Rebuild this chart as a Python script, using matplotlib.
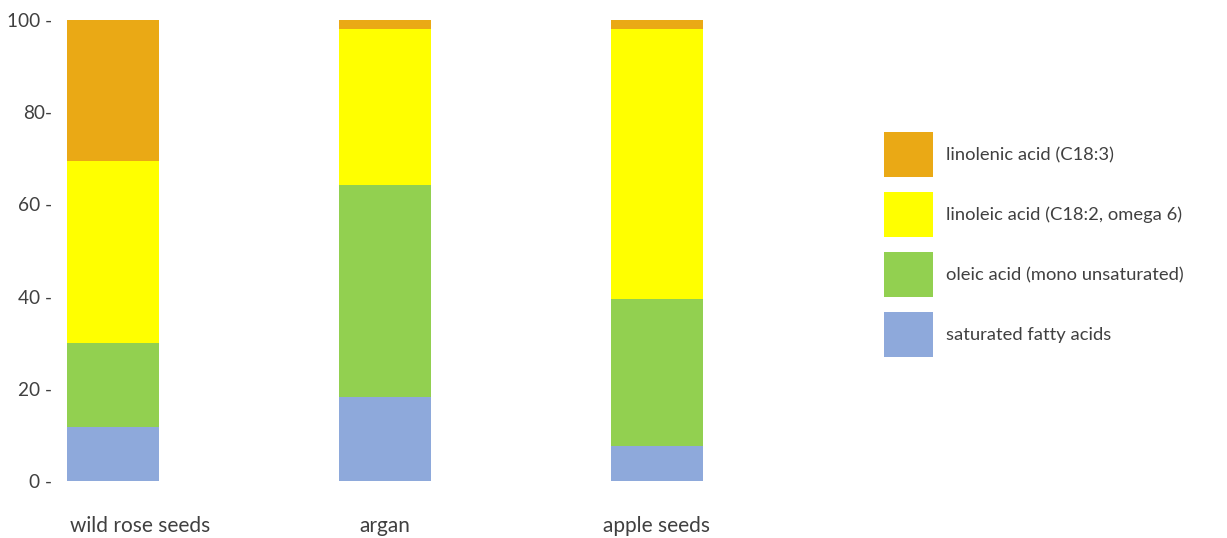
import matplotlib.pyplot as plt
import matplotlib.transforms as mtransforms
import numpy as np
from matplotlib.container import BarContainer
from matplotlib.legend_handler import HandlerPatch, update_from_first_child
from matplotlib.patches import Rectangle

TEXT_COLOUR = "#404040"

categories = ["wild rose seeds", "argan", "apple seeds"]
saturated = [11.8, 18.3, 7.6]
oleic = [18.1, 45.9, 31.8]
linoleic = [39.5, 33.8, 58.6]
linolenic = [30.6, 2.0, 2.0]

series_names = [
    "saturated fatty acids",
    "oleic acid (mono unsaturated)",
    "linoleic acid (C18:2, omega 6)",
    "linolenic acid (C18:3)",
]
series_colours = ["#8EA9DB", "#92D050", "#FFFF00", "#EAA915"]

y_ticks = [0, 20, 40, 60, 80, 100]
y_tick_labels = ["0 -", "20 -", "40 -", "60 -", "80-", "100 -"]

W, H = 1227, 538
fig = plt.figure(figsize=(W / 100, H / 100), dpi=100)
plt.rcParams["font.family"] = ["Lato", "DejaVu Sans"]

# axes placed in pixel terms: left 60, right 760, top 20, bottom 481
ax = fig.add_axes([60 / W, (H - 481) / H, 700 / W, 461 / H])

x = np.arange(len(categories))
bottom = np.zeros(len(categories))
handles = []
for values, name, colour in zip(
    [saturated, oleic, linoleic, linolenic], series_names, series_colours
):
    bars = ax.bar(x, values, width=0.338, bottom=bottom, color=colour,
                  label=name, linewidth=0)
    handles.append(bars)
    bottom += np.array(values)

ax.set_xlim(-0.195, 2.379)
ax.set_ylim(0, 100)

for spine in ax.spines.values():
    spine.set_visible(False)

ax.set_yticks(y_ticks)
ax.set_yticklabels(y_tick_labels, fontsize=13.7, color=TEXT_COLOUR)
ax.tick_params(axis="y", length=0, pad=6)

ax.set_xticks(x)
ax.set_xticklabels(categories, fontsize=15, color=TEXT_COLOUR)
ax.tick_params(axis="x", length=0, pad=25)

# first category label sits left-aligned under its bar
first = ax.get_xticklabels()[0]
first.set_horizontalalignment("left")
first.set_transform(first.get_transform() + mtransforms.ScaledTranslation(
    -43 / 100, 0, fig.dpi_scale_trans))


# legend squares are taller than the text rows, so size them by hand (points)
SWATCH_W = 49 * 0.72
SWATCH_H = 45 * 0.72
LEGEND_FS = 13.2


def _square(legend, orig_handle, xdescent, ydescent, width, height, fontsize):
    centre = height / 2 - ydescent
    return Rectangle((-xdescent, centre - SWATCH_H / 2), SWATCH_W, SWATCH_H)


ax.legend(
    handles[::-1],
    series_names[::-1],
    loc="upper left",
    bbox_to_anchor=(884 / W, 1 - 139 / H),
    bbox_transform=fig.transFigure,
    frameon=False,
    fontsize=LEGEND_FS,
    handlelength=SWATCH_W / LEGEND_FS,
    handleheight=2.2,
    handletextpad=0.7,
    labelspacing=1.6,
    borderpad=0,
    borderaxespad=0,
    labelcolor=TEXT_COLOUR,
    handler_map={BarContainer: HandlerPatch(patch_func=_square,
                                            update_func=update_from_first_child)},
)

fig.savefig("out.png", dpi=100, facecolor="white")
plt.close(fig)
